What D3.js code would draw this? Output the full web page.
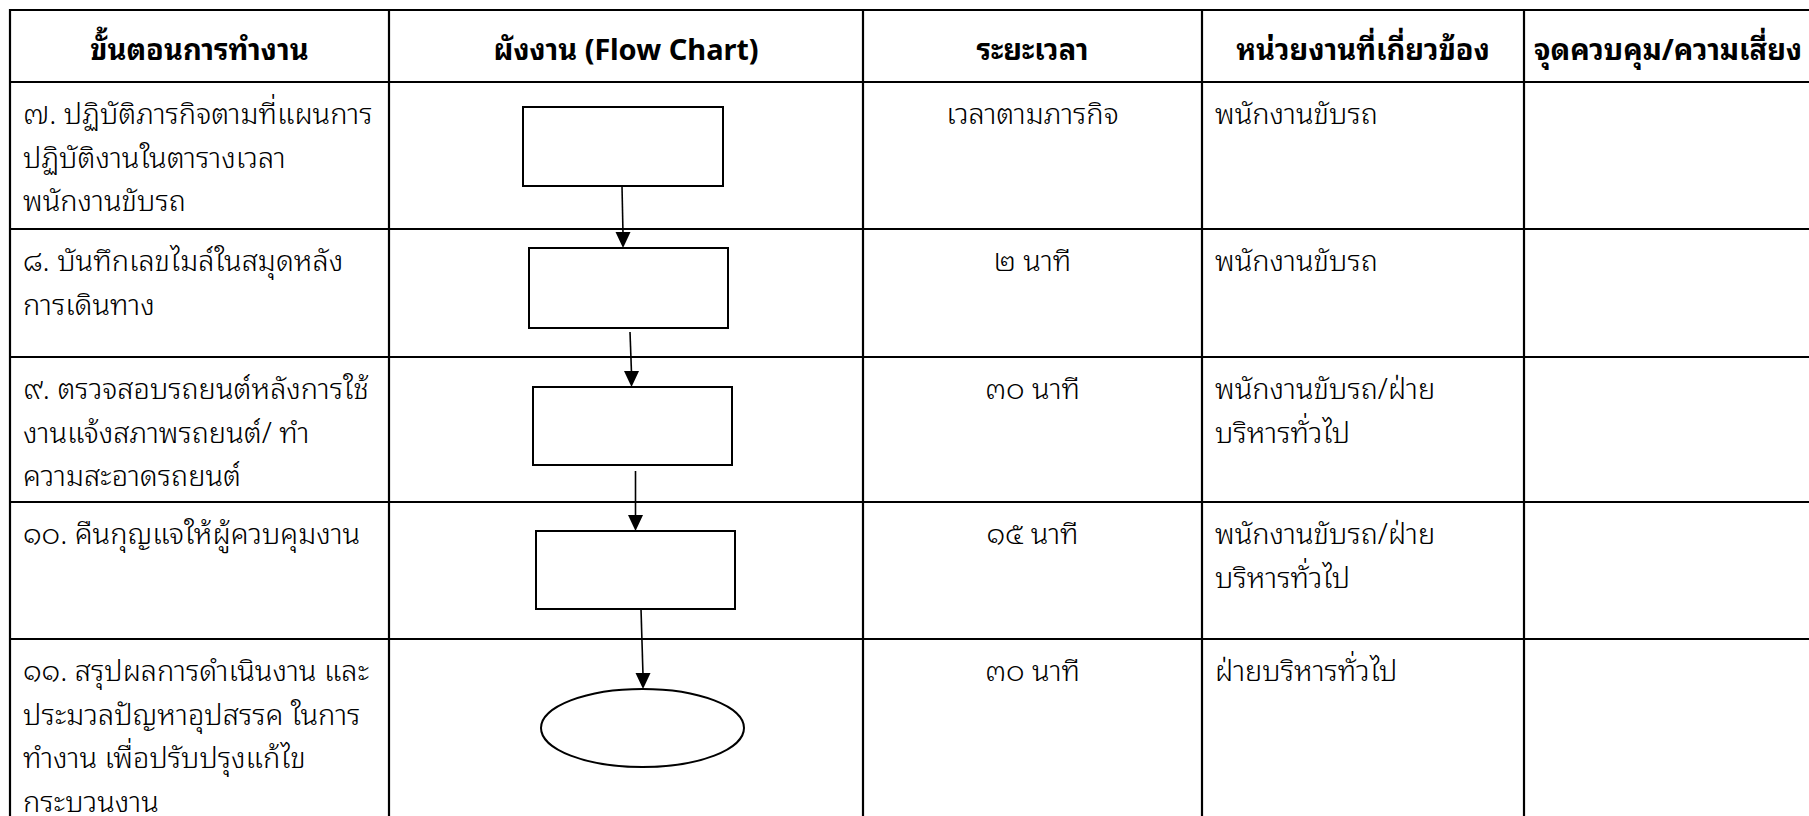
<!DOCTYPE html>
<html>
<head>
<meta charset="utf-8">
<script src="https://cdn.jsdelivr.net/npm/d3@7"></script>
<style>
  html, body { margin: 0; padding: 0; background: #fff; }
  svg { display: block; }
  text { font-family: "Noto Sans Thai Looped", "Sarabun", "TH Sarabun New", "Loma", "Garuda", "Noto Sans Thai", sans-serif; fill: #000; }
</style>
</head>
<body>
<svg id="chart" width="1809" height="816"></svg>
<script>
// ---------- data ----------
const headers = ["ขั้นตอนการทำงาน", "ผังงาน (Flow Chart)", "ระยะเวลา", "หน่วยงานที่เกี่ยวข้อง", "จุดควบคุม/ความเสี่ยง"];
const steps = [
  ["๗. ปฏิบัติภารกิจตามที่แผนการ", "ปฏิบัติงานในตารางเวลา", "พนักงานขับรถ"],
  ["๘. บันทึกเลขไมล์ในสมุดหลัง", "การเดินทาง"],
  ["๙. ตรวจสอบรถยนต์หลังการใช้", "งานแจ้งสภาพรถยนต์/ ทำ", "ความสะอาดรถยนต์"],
  ["๑๐. คืนกุญแจให้ผู้ควบคุมงาน"],
  ["๑๑. สรุปผลการดำเนินงาน และ", "ประมวลปัญหาอุปสรรค ในการ", "ทำงาน เพื่อปรับปรุงแก้ไข", "กระบวนงาน"]
];
const durations = ["เวลาตามภารกิจ", "๒ นาที", "๓๐ นาที", "๑๕ นาที", "๓๐ นาที"];
const departments = [
  ["พนักงานขับรถ"],
  ["พนักงานขับรถ"],
  ["พนักงานขับรถ/ฝ่าย", "บริหารทั่วไป"],
  ["พนักงานขับรถ/ฝ่าย", "บริหารทั่วไป"],
  ["ฝ่ายบริหารทั่วไป"]
];
const controls = ["", "", "", "", ""];
const shapeTypes = ["rect", "rect", "rect", "rect", "ellipse"];

// ---------- layout (positions / sizes / styles) ----------
const colEdges = [10, 389, 863, 1202, 1524, 1812];
const rowEdges = [10, 82, 229, 357, 502, 639, 840];
const shapeLayout = [
  { dx: 134, dy: 25, w: 200, h: 79 },
  { dx: 140, dy: 19, w: 199, h: 80 },
  { dx: 144, dy: 30, w: 199, h: 78 },
  { dx: 147, dy: 29, w: 199, h: 78 },
  { dx: 152, dy: 50, w: 203, h: 78 }
];
const arrowLayout = [
  { sx: -1, ex: -5.5, gap: 0 },
  { sx: 1.5, ex: -1, gap: 4 },
  { sx: 3, ex: 0, gap: 6 },
  { sx: 5.5, ex: 0.5, gap: 0 }
];
const fontSize = 29, lineGap = 43.5, firstLine = 42, padX = 13, headerBase = 60;

// ---------- scales ----------
const x = d3.scaleOrdinal().domain(d3.range(colEdges.length)).range(colEdges);
const y = d3.scaleOrdinal().domain(d3.range(rowEdges.length)).range(rowEdges);

const svg = d3.select("#chart");

// header text
svg.append("g").selectAll("text").data(headers).join("text")
  .attr("x", (d, i) => (x(i) + x(i + 1)) / 2)
  .attr("y", headerBase)
  .attr("text-anchor", "middle")
  .attr("font-size", fontSize)
  .attr("font-weight", "bold")
  .text(d => d);

function cellLines(g, lines, row, col, align) {
  g.append("g").selectAll("text").data(lines).join("text")
    .attr("x", align === "middle" ? (x(col) + x(col + 1)) / 2 : x(col) + padX)
    .attr("y", (d, k) => y(row + 1) + firstLine + k * lineGap)
    .attr("text-anchor", align === "middle" ? "middle" : "start")
    .attr("font-size", fontSize)
    .attr("font-weight", 300)
    .text(d => d);
}

const body = svg.append("g");
steps.forEach((lines, r) => {
  cellLines(body, lines, r, 0, "start");
  cellLines(body, [durations[r]], r, 2, "middle");
  cellLines(body, departments[r], r, 3, "start");
  cellLines(body, controls[r] ? [controls[r]] : [], r, 4, "start");
});

// grid lines
const grid = svg.append("g").attr("stroke", "#000").attr("stroke-width", 2.2);
grid.selectAll("line.h").data(rowEdges.slice(0, -1)).join("line")
  .attr("x1", x(0) - 1).attr("x2", x(colEdges.length - 1))
  .attr("y1", d => d).attr("y2", d => d);
grid.selectAll("line.v").data(colEdges).join("line")
  .attr("x1", d => d).attr("x2", d => d)
  .attr("y1", y(0) - 1).attr("y2", y(rowEdges.length - 1));

// flow chart shapes
const shapes = shapeTypes.map((t, i) => {
  const L = shapeLayout[i];
  const left = x(1) + L.dx, top = y(i + 1) + L.dy;
  return { type: t, left, top, w: L.w, h: L.h, cx: left + L.w / 2, bottom: top + L.h };
});
const fg = svg.append("g").attr("fill", "#fff").attr("stroke", "#000").attr("stroke-width", 2);
fg.selectAll("rect").data(shapes.filter(s => s.type === "rect")).join("rect")
  .attr("x", d => d.left).attr("y", d => d.top).attr("width", d => d.w).attr("height", d => d.h);
fg.selectAll("ellipse").data(shapes.filter(s => s.type === "ellipse")).join("ellipse")
  .attr("cx", d => d.cx).attr("cy", d => d.top + d.h / 2).attr("rx", d => d.w / 2).attr("ry", d => d.h / 2);

// arrows
const arrows = arrowLayout.map((a, i) => ({
  x1: shapes[i].cx + a.sx, y1: shapes[i].bottom + a.gap,
  x2: shapes[i + 1].cx + a.ex, y2: shapes[i + 1].top
}));
const ag = svg.append("g");
ag.selectAll("line").data(arrows).join("line")
  .attr("x1", d => d.x1).attr("y1", d => d.y1)
  .attr("x2", d => d.x2).attr("y2", d => d.y2 - 14)
  .attr("stroke", "#000").attr("stroke-width", 1.6);
ag.selectAll("path").data(arrows).join("path")
  .attr("d", d => d3.line()([[d.x2 - 7.5, d.y2 - 16], [d.x2 + 7.5, d.y2 - 16], [d.x2, d.y2]]) + "Z")
  .attr("fill", "#000");
</script>
</body>
</html>
